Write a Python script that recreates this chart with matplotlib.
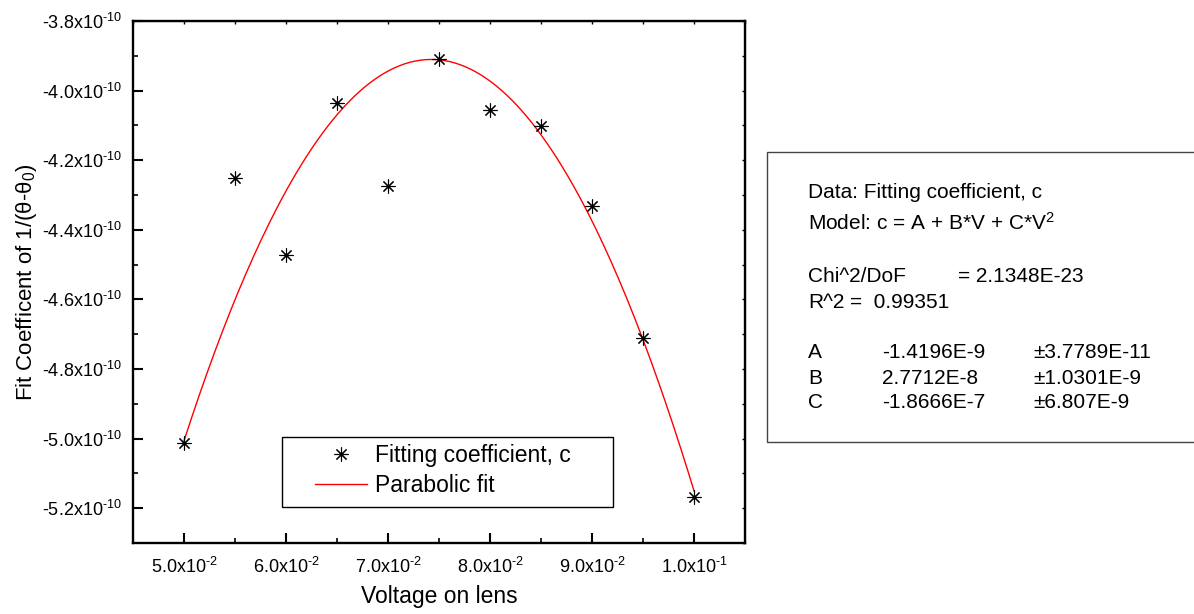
import matplotlib
matplotlib.use("Agg")
import matplotlib.pyplot as plt
import numpy as np
from matplotlib.ticker import FuncFormatter, MultipleLocator, NullFormatter
from matplotlib.patches import Rectangle

plt.rcParams['font.family'] = ['Liberation Sans', 'DejaVu Sans']
plt.rcParams['mathtext.fontset'] = 'custom'
plt.rcParams['mathtext.rm'] = 'Liberation Sans'
plt.rcParams['mathtext.it'] = 'Liberation Sans:italic'

# data
voltage = [0.050, 0.055, 0.060, 0.065, 0.070, 0.075, 0.080, 0.085, 0.090, 0.095, 0.100]
coef_c = [-5.012e-10, -4.252e-10, -4.471e-10, -4.036e-10, -4.275e-10, -3.909e-10,
          -4.056e-10, -4.102e-10, -4.332e-10, -4.712e-10, -5.167e-10]

# fit parameters as printed in the box
fit_A = -1.4196e-9
fit_B = 2.7712e-8
fit_C = -1.8666e-7

box_lines = [
    "Data: Fitting coefficient, c",
    r"Model: c = A + B*V + C*V$^{2}$",
]

def sci(v, pos):
    e = int(np.floor(np.log10(abs(v)) + 1e-9))
    m = v / 10.0 ** e
    ex = str(e).replace("-", r"\text{-}")
    return ("%.1fx10" % m) + r"$^{%s}$" % ex

fig = plt.figure(figsize=(11.94, 6.14), dpi=100)
ax = fig.add_axes([133 / 1194, 1 - 543 / 614, (745 - 133) / 1194, (543 - 21) / 614])

vv = np.linspace(voltage[0], voltage[-1], 200)
ax.plot(vv, fit_A + fit_B * vv + fit_C * vv ** 2, color='red', lw=1.0, label='Parabolic fit', zorder=2)
ax.plot(voltage, coef_c, linestyle='none', marker=(8, 2, 0), markersize=10, color='black',
        markeredgewidth=0.8, label='Fitting coefficient, c', zorder=3)

ax.set_xlim(0.045, 0.105)
ax.set_ylim(-5.3e-10, -3.8e-10)
ax.xaxis.set_major_locator(MultipleLocator(0.01))
ax.xaxis.set_minor_locator(MultipleLocator(0.005))
ax.yaxis.set_major_locator(MultipleLocator(0.2e-10))
ax.yaxis.set_minor_locator(MultipleLocator(0.1e-10))
ax.xaxis.set_major_formatter(FuncFormatter(sci))
ax.yaxis.set_major_formatter(FuncFormatter(sci))
ax.tick_params(which='major', direction='in', length=7.2, width=1.5, labelsize=13, pad=8)
ax.tick_params(which='minor', direction='in', length=3.8, width=1.2)
ax.tick_params(axis='x', which='major', pad=10)
for s in ax.spines.values():
    s.set_linewidth(1.7)

# short mirrored ticks on top and right, no labels
top = ax.secondary_xaxis('top')
top.xaxis.set_major_locator(MultipleLocator(0.005))
top.xaxis.set_major_formatter(NullFormatter())
top.tick_params(direction='in', length=2.2, width=1.0)
right = ax.secondary_yaxis('right')
right.yaxis.set_major_locator(MultipleLocator(0.1e-10))
right.yaxis.set_major_formatter(NullFormatter())
right.tick_params(direction='in', length=2.2, width=1.0)

ax.set_xlabel("Voltage on lens", fontsize=16.5, labelpad=6)
ax.set_ylabel("Fit Coefficent of 1/(\u03b8-\u03b8$_{0}$)", fontsize=16, labelpad=2)

# legend without its own frame, boxed by a rectangle like the original
handles, labels = ax.get_legend_handles_labels()
leg = ax.legend(handles[::-1], labels[::-1], loc='upper left', bbox_to_anchor=(0.297, 0.19),
                bbox_transform=ax.transAxes, fontsize=16.5, frameon=False,
                borderpad=0.0, handlelength=2.26, handletextpad=0.35, labelspacing=0.3,
                borderaxespad=0.0)
ax.add_patch(Rectangle((0.2435, 0.069), 0.541, 0.134, transform=ax.transAxes,
                       fill=False, edgecolor='black', lw=1.0, zorder=5))

# parameter box on the right
fig.patches.append(Rectangle((767 / 1194, 1 - 442 / 614), 0.5, (442 - 152) / 614,
                             transform=fig.transFigure, fill=False, edgecolor='#444444', lw=1.0))
fs = 15
x0 = 808 / 1194
fig.text(x0, 1 - 193 / 614, box_lines[0], fontsize=fs, va='center')
fig.text(x0, 1 - 223 / 614, box_lines[1], fontsize=fs, va='center')
fig.text(x0, 1 - 277 / 614, "Chi^2/DoF", fontsize=fs, va='center')
fig.text(958 / 1194, 1 - 277 / 614, "= 2.1348E-23", fontsize=fs, va='center')
fig.text(x0, 1 - 302 / 614, "R^2", fontsize=fs, va='center')
fig.text(850 / 1194, 1 - 302 / 614, "=  0.99351", fontsize=fs, va='center')
rows = [("A", fit_A, "\u00b13.7789E-11"), ("B", fit_B, "\u00b11.0301E-9"), ("C", fit_C, "\u00b16.807E-9")]
for i, (name, val, err) in enumerate(rows):
    y = 1 - (353 + 25 * i) / 614
    fig.text(x0, y, name, fontsize=fs, va='center')
    fig.text(882 / 1194, y, ("%.4E" % val).replace("E-0", "E-"), fontsize=fs, va='center')
    fig.text(1033 / 1194, y, err, fontsize=fs, va='center')

fig.savefig("out.png", dpi=100)
